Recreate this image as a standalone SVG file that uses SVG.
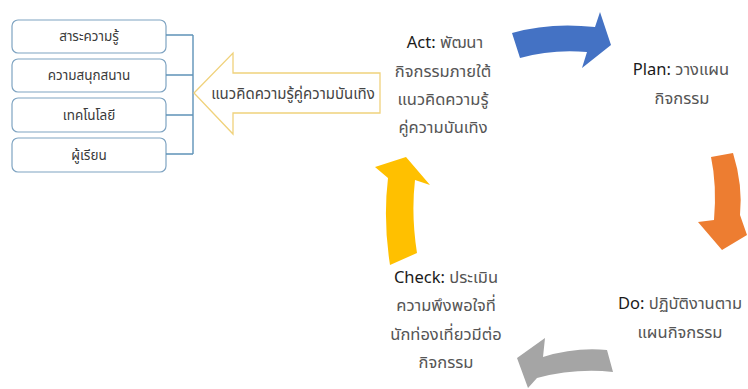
<svg xmlns="http://www.w3.org/2000/svg" width="748" height="389" viewBox="0 0 748 389">
<style>
text{font-family:"Noto Sans","Noto Sans Thai","Liberation Sans",sans-serif;text-anchor:middle}
.box{fill:#fff;stroke:#7fa4c2;stroke-width:1.2}
.bt{font-size:13.5px;fill:#3a3a3a}
.br{fill:none;stroke:#5f93b8;stroke-width:1.4}
.lbl{font-size:16.5px;fill:#555}
.en{fill:#1a1a1a}
</style>
<rect width="748" height="389" fill="#fff"/>
<g id="box1"><rect class="box" x="12" y="20" width="154" height="33" rx="6"/><text class="bt" x="89" y="41">สาระความรู้</text></g>
<g id="box2"><rect class="box" x="12" y="59" width="154" height="33" rx="6"/><text class="bt" x="89" y="80">ความสนุกสนาน</text></g>
<g id="box3"><rect class="box" x="12" y="98" width="154" height="34" rx="6"/><text class="bt" x="89" y="120">เทคโนโลยี</text></g>
<g id="box4"><rect class="box" x="12" y="138" width="154" height="34" rx="6"/><text class="bt" x="89" y="160">ผู้เรียน</text></g>
<g id="connectors">
<path class="br" d="M166,35H193M166,75H193M166,115H193M166,154H193M193,35V154"/>
</g>
<g id="concept">
<path d="M194,93L233,53V73H380V113H233V134Z" fill="#fff" stroke="#f0d27c" stroke-width="1.3"/>
<text x="293" y="99" style="font-size:15px;fill:#444">แนวคิดความรู้คู่ความบันเทิง</text>
</g>
<g id="act"><text class="lbl" x="445" y="48"><tspan class="en">Act:</tspan> พัฒนา</text><text class="lbl" x="443" y="77">กิจกรรมภายใต้</text><text class="lbl" x="443" y="105">แนวคิดความรู้</text><text class="lbl" x="443" y="133">คู่ความบันเทิง</text></g>
<g id="plan"><text class="lbl" x="681" y="75"><tspan class="en">Plan:</tspan> วางแผน</text><text class="lbl" x="682" y="104">กิจกรรม</text></g>
<g id="do"><text class="lbl" x="680" y="309"><tspan class="en">Do:</tspan> ปฏิบัติงานตาม</text><text class="lbl" x="680" y="338">แผนกิจกรรม</text></g>
<g id="check"><text class="lbl" x="446" y="283"><tspan class="en">Check:</tspan> ประเมิน</text><text class="lbl" x="446" y="311">ความพึงพอใจที่</text><text class="lbl" x="446" y="340">นักท่องเที่ยวมีต่อ</text><text class="lbl" x="446" y="368">กิจกรรม</text></g>
<g id="cycle-arrows">
<path d="M512,33Q550,22 595,27L600,12L611,45L582,68L587,52Q552,49 520,58Z" fill="#4472c4"/>
<path d="M711,157L733,153Q743,185 740,215L747,235L722,250L698,222L714,220Q717,185 711,157Z" fill="#ed7d31"/>
<path d="M607,350Q575,347 543,357L545,338L517,358L528,388L537,378Q575,368 613,372Z" fill="#a5a5a5"/>
<path d="M390,265Q383,220 388,178L375,167L406,157L430,185L415,180Q411,215 417,253Z" fill="#ffc000"/>
</g>
</svg>
